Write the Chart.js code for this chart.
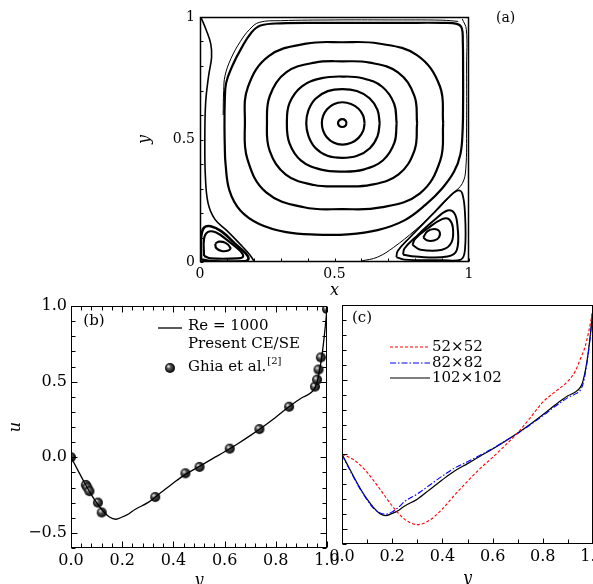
<!DOCTYPE html>
<html>
<head>
<meta charset="utf-8">
<script src="https://cdn.jsdelivr.net/npm/chart.js@4.4.0/dist/chart.umd.min.js"></script>
<style>
  html, body { margin: 0; padding: 0; background: #fff; overflow: hidden; width: 593px; height: 584px; }
  canvas { position: absolute; }
</style>
</head>
<body>
<canvas id="cavity" width="410" height="300" style="left:110px;top:0px"></canvas>
<canvas id="profile" width="345" height="310" style="left:0px;top:290px"></canvas>
<canvas id="grids" width="320" height="310" style="left:320px;top:290px"></canvas>
<script>
// ---- (a) streamlines ----
// primary vortex rings: distance from the vortex centre every 22.5 deg (0 = right, 90 = up)
const vortexCentre = [0.529, 0.567];
const ringCoreR = [0.016, 0.016, 0.016, 0.016, 0.016, 0.016, 0.016, 0.016];
const ring1R = [0.083, 0.0833, 0.084, 0.0847, 0.085, 0.0835, 0.0801, 0.0771, 0.076, 0.0775, 0.0814, 0.0859, 0.088, 0.0872, 0.0854, 0.0837];
const ring2R = [0.139, 0.1415, 0.1434, 0.1415, 0.139, 0.1412, 0.1409, 0.1364, 0.134, 0.1364, 0.1424, 0.1446, 0.142, 0.1446, 0.145, 0.1415];
const ring3R = [0.202, 0.2083, 0.2097, 0.1983, 0.19, 0.1985, 0.2123, 0.2125, 0.206, 0.2128, 0.2165, 0.2058, 0.198, 0.2055, 0.2144, 0.2097];
const ring4R = [0.278, 0.29, 0.2926, 0.2669, 0.252, 0.2672, 0.2937, 0.2915, 0.28, 0.2925, 0.297, 0.2735, 0.258, 0.2733, 0.2959, 0.2905];
const ring5R = [0.375, 0.3927, 0.3925, 0.3516, 0.33, 0.3509, 0.3867, 0.3802, 0.362, 0.3821, 0.4001, 0.372, 0.351, 0.3727, 0.4067, 0.3946];
// outer streamlines and corner eddies as [x, y] pairs
const ring6 = [[0.091, 0.55], [0.092, 0.65], [0.097, 0.73], [0.12, 0.8], [0.155, 0.875], [0.19, 0.935], [0.225, 0.965], [0.3, 0.974], [0.45, 0.976], [0.6, 0.976], [0.75, 0.976], [0.9, 0.976], [0.955, 0.972], [0.973, 0.955], [0.977, 0.9], [0.978, 0.78], [0.978, 0.65], [0.976, 0.53], [0.968, 0.44], [0.945, 0.37], [0.9, 0.3], [0.84, 0.235], [0.76, 0.17], [0.66, 0.13], [0.55, 0.113], [0.43, 0.112], [0.32, 0.122], [0.22, 0.155], [0.15, 0.21], [0.11, 0.29], [0.095, 0.4], [0.092, 0.48]];
const ring6Edge = [[0.086, 0.6], [0.088, 0.7], [0.093, 0.76], [0.115, 0.83], [0.15, 0.9], [0.185, 0.95], [0.22, 0.978], [0.3, 0.985], [0.5, 0.988], [0.7, 0.988], [0.9, 0.987], [0.96, 0.982]];
const wallLeft = [[0.004, 0.997], [0.022, 0.95], [0.04, 0.89], [0.043, 0.835], [0.032, 0.76], [0.021, 0.65], [0.018, 0.5], [0.02, 0.35], [0.03, 0.24], [0.055, 0.175], [0.1, 0.128], [0.15, 0.072], [0.185, 0.03], [0.2, 0.005]];
const wallRight = [[0.6, 0.004], [0.66, 0.02], [0.72, 0.06], [0.8, 0.13], [0.88, 0.21], [0.94, 0.28], [0.975, 0.32], [0.988, 0.38], [0.991, 0.55], [0.991, 0.8], [0.99, 0.95], [0.975, 0.992]];
const leftEddy3 = [[0.004, 0.01], [0.004, 0.1], [0.015, 0.14], [0.04, 0.146], [0.08, 0.125], [0.13, 0.075], [0.17, 0.035], [0.18, 0.012], [0.16, 0.003], [0.05, 0.003]];
const leftEddy2 = [[0.015, 0.025], [0.015, 0.095], [0.03, 0.123], [0.06, 0.12], [0.1, 0.09], [0.15, 0.045], [0.16, 0.022], [0.14, 0.015], [0.04, 0.015]];
const leftEddy1 = [[0.057, 0.075], [0.07, 0.083], [0.095, 0.078], [0.113, 0.058], [0.105, 0.047], [0.08, 0.045], [0.06, 0.057]];
const rightEddy4 = [[0.73, 0.02], [0.76, 0.01], [0.9, 0.008], [0.97, 0.01], [0.985, 0.05], [0.985, 0.2], [0.975, 0.28], [0.96, 0.292], [0.93, 0.27], [0.86, 0.19], [0.78, 0.1], [0.735, 0.045]];
const rightEddy3 = [[0.755, 0.03], [0.8, 0.022], [0.92, 0.022], [0.955, 0.05], [0.957, 0.15], [0.945, 0.2], [0.92, 0.21], [0.87, 0.17], [0.8, 0.1], [0.76, 0.055]];
const rightEddy2 = [[0.79, 0.07], [0.82, 0.05], [0.9, 0.05], [0.935, 0.08], [0.94, 0.14], [0.925, 0.175], [0.9, 0.175], [0.85, 0.14], [0.8, 0.095]];
const rightEddy1 = [[0.83, 0.1], [0.845, 0.125], [0.87, 0.135], [0.89, 0.125], [0.888, 0.1], [0.87, 0.088], [0.845, 0.088]];

// ---- (b) u along the vertical centreline ----
const presentY = [0, 0.025, 0.05, 0.075, 0.1, 0.125, 0.15, 0.175, 0.2, 0.225, 0.25, 0.3, 0.35, 0.4, 0.45, 0.5, 0.55, 0.6, 0.65, 0.7, 0.75, 0.8, 0.85, 0.9, 0.93, 0.95, 0.96, 0.97, 0.98, 0.99, 1.0];
const presentU = [0, -0.08, -0.16, -0.235, -0.3, -0.355, -0.395, -0.41, -0.395, -0.375, -0.345, -0.3, -0.235, -0.17, -0.11, -0.062, -0.012, 0.036, 0.088, 0.143, 0.202, 0.265, 0.332, 0.392, 0.418, 0.45, 0.49, 0.565, 0.67, 0.81, 0.98];
const ghiaY = [0, 0.058, 0.064, 0.072, 0.105, 0.12, 0.329, 0.447, 0.502, 0.62, 0.736, 0.852, 0.953, 0.961, 0.967, 0.976, 1.0];
const ghiaU = [0, -0.183, -0.2, -0.224, -0.3, -0.365, -0.263, -0.106, -0.064, 0.057, 0.186, 0.334, 0.467, 0.513, 0.58, 0.66, 0.98];

// ---- (c) grid study ----
const blueU = [0, -0.085, -0.165, -0.24, -0.305, -0.36, -0.39, -0.4, -0.385, -0.355, -0.315, -0.265, -0.205, -0.145, -0.09, -0.05, -0.005, 0.04, 0.09, 0.14, 0.198, 0.258, 0.322, 0.38, 0.405, 0.43, 0.47, 0.55, 0.66, 0.8, 0.98];
const redY = [0, 0.05, 0.1, 0.15, 0.2, 0.25, 0.3, 0.35, 0.4, 0.45, 0.5, 0.55, 0.6, 0.65, 0.7, 0.75, 0.8, 0.85, 0.9, 0.93, 0.95, 0.97, 0.99, 1.0];
const redU = [0, -0.04, -0.12, -0.23, -0.345, -0.435, -0.47, -0.44, -0.365, -0.27, -0.18, -0.095, -0.02, 0.06, 0.145, 0.245, 0.35, 0.42, 0.49, 0.56, 0.64, 0.73, 0.88, 0.98];

// ---- ticks ----
const labelsA = [0, 0.5, 1];
const minorA = [0, 0.1, 0.2, 0.3, 0.4, 0.5, 0.6, 0.7, 0.8, 0.9, 1];
const xLabelsBC = [0, 0.2, 0.4, 0.6, 0.8, 1.0];
const yLabelsB = [-0.5, 0, 0.5, 1.0];
const xMinorB = [0.04, 0.08, 0.12, 0.16, 0.24, 0.28, 0.32, 0.36, 0.44, 0.48, 0.52, 0.56, 0.64, 0.68, 0.72, 0.76, 0.84, 0.88, 0.92, 0.96];
const xMinorC = [0.1, 0.3, 0.5, 0.7, 0.9];
const yMinorBC = [-0.6, -0.4, -0.3, -0.2, -0.1, 0.1, 0.2, 0.3, 0.4, 0.6, 0.7, 0.8, 0.9];

const SERIF = '"DejaVu Serif", "Liberation Serif", serif';

function polarRing(radii) {
  return radii.map((r, i) => {
    const t = (i * Math.PI * 2) / radii.length;
    return [vortexCentre[0] + r * Math.cos(t), vortexCentre[1] + r * Math.sin(t)];
  });
}
function loop(pts) {
  const d = pts.map(([x, y]) => ({ x, y }));
  d.push({ x: pts[0][0], y: pts[0][1] });
  return d;
}
function open(pts) {
  return pts.map(([x, y]) => ({ x, y }));
}
function zip(xs, ys) {
  return xs.map((x, i) => ({ x, y: ys[i] }));
}
function stream(data, width) {
  return { data, showLine: true, borderColor: '#000', borderWidth: width, pointRadius: 0, tension: 0.4, fill: false };
}

function makeBall(r) {
  const c = document.createElement('canvas');
  c.width = c.height = 2 * r + 2;
  const g = c.getContext('2d');
  const m = r + 1;
  const grad = g.createRadialGradient(m - r * 0.35, m - r * 0.35, r * 0.1, m, m, r);
  grad.addColorStop(0, '#e0e0e0');
  grad.addColorStop(0.35, '#555');
  grad.addColorStop(1, '#000');
  g.fillStyle = grad;
  g.beginPath();
  g.arc(m, m, r, 0, Math.PI * 2);
  g.fill();
  return c;
}
const ball = makeBall(5);

// frame plus inward ticks
const frameTicks = {
  id: 'frameTicks',
  afterDatasetsDraw(chart, args, opts) {
    const { ctx, chartArea: a, scales } = chart;
    const L = Math.round(a.left) + 0.5;
    const R = Math.round(a.right) - 0.5;
    const T = Math.round(a.top) + 0.5;
    const B = Math.round(a.bottom) - 0.5;
    ctx.save();
    ctx.strokeStyle = '#000';
    ctx.lineWidth = opts.width || 1;
    ctx.strokeRect(L, T, R - L, B - T);
    ctx.lineWidth = 1;
    const sides = opts.sides || ['left', 'bottom'];
    const drawX = (vals, len) => vals.forEach((v) => {
      const p = Math.round(scales.x.getPixelForValue(v)) + 0.5;
      ctx.beginPath();
      if (sides.includes('bottom')) { ctx.moveTo(p, B); ctx.lineTo(p, B - len); }
      if (sides.includes('top')) { ctx.moveTo(p, T); ctx.lineTo(p, T + len); }
      ctx.stroke();
    });
    const drawY = (vals, len) => vals.forEach((v) => {
      const p = Math.round(scales.y.getPixelForValue(v)) + 0.5;
      ctx.beginPath();
      if (sides.includes('left')) { ctx.moveTo(L, p); ctx.lineTo(L + len, p); }
      if (sides.includes('right')) { ctx.moveTo(R, p); ctx.lineTo(R - len, p); }
      ctx.stroke();
    });
    drawX(opts.xMajor || [], opts.majorLen || 5);
    drawX(opts.xMinor || [], opts.minorLen || 3);
    drawY(opts.yMajor || [], opts.majorLen || 5);
    drawY(opts.yMinor || [], opts.minorLen || 3);
    ctx.restore();
  },
};

// panel tags and hand-placed legends
const panelText = {
  id: 'panelText',
  afterDraw(chart, args, opts) {
    const { ctx } = chart;
    ctx.save();
    (opts.lines || []).forEach((ln) => {
      ctx.beginPath();
      ctx.setLineDash(ln.dash || []);
      ctx.strokeStyle = ln.color;
      ctx.lineWidth = ln.width;
      ctx.moveTo(ln.x0, ln.y);
      ctx.lineTo(ln.x1, ln.y);
      ctx.stroke();
    });
    ctx.setLineDash([]);
    (opts.balls || []).forEach((b) => ctx.drawImage(ball, b.x - ball.width / 2, b.y - ball.height / 2));
    ctx.fillStyle = '#000';
    ctx.textBaseline = 'middle';
    (opts.items || []).forEach((it) => {
      ctx.font = it.font;
      ctx.textAlign = it.align || 'left';
      ctx.fillText(it.text, it.x, it.y);
      if (it.sup) {
        const w = ctx.measureText(it.text).width;
        ctx.font = it.supFont;
        ctx.textAlign = 'left';
        ctx.fillText(it.sup, it.x + w + 1, it.y - 6);
      }
    });
    ctx.restore();
  },
};

function fixTicks(list) {
  return (scale) => { scale.ticks = list.map((v) => ({ value: v })); };
}
const oneDecimal = (v) => (v < 0 ? '\u2212' + Math.abs(v).toFixed(1) : v.toFixed(1));
const plain = (v) => String(v);

// ---------- (a) ----------
new Chart(document.getElementById('cavity'), {
  type: 'scatter',
  data: {
    datasets: [
      stream(loop(polarRing(ringCoreR)), 2.2),
      stream(loop(polarRing(ring1R)), 2.2),
      stream(loop(polarRing(ring2R)), 2.2),
      stream(loop(polarRing(ring3R)), 2.2),
      stream(loop(polarRing(ring4R)), 2.2),
      stream(loop(polarRing(ring5R)), 2.2),
      stream(loop(ring6), 2.2),
      stream(open(ring6Edge), 1),
      stream(open(wallLeft), 1.6),
      stream(open(wallRight), 1),
      stream(loop(leftEddy3), 2.6),
      stream(loop(leftEddy2), 2.2),
      stream(loop(leftEddy1), 2.2),
      stream(loop(rightEddy4), 1.8),
      stream(loop(rightEddy3), 2),
      stream(loop(rightEddy2), 2),
      stream(loop(rightEddy1), 2),
    ],
  },
  options: {
    responsive: false,
    animation: false,
    devicePixelRatio: 1,
    layout: { padding: { left: 25, right: 51, top: 17, bottom: 0 } },
    scales: {
      x: {
        type: 'linear',
        min: 0,
        max: 1,
        afterBuildTicks: fixTicks(labelsA),
        afterFit: (s) => { s.height = 38; },
        grid: { display: false, drawTicks: false },
        border: { display: false },
        ticks: { color: '#000', padding: 4, maxRotation: 0, autoSkip: false, font: { family: SERIF, size: 14 }, callback: plain },
        title: { display: true, text: 'x', color: '#000', padding: 0, font: { family: SERIF, size: 16, style: 'italic' } },
      },
      y: {
        type: 'linear',
        min: 0,
        max: 1,
        afterBuildTicks: fixTicks(labelsA),
        afterFit: (s) => { s.width = 65; },
        grid: { display: false, drawTicks: false },
        border: { display: false },
        ticks: { color: '#000', padding: 5, autoSkip: false, font: { family: SERIF, size: 14 }, callback: plain },
        title: { display: true, text: 'y', color: '#000', padding: 0, font: { family: SERIF, size: 16, style: 'italic' } },
      },
    },
    plugins: {
      legend: { display: false },
      tooltip: { enabled: false },
      frameTicks: { width: 1.5, sides: ['left', 'bottom'], xMinor: minorA, yMinor: minorA, minorLen: 3 },
      panelText: {
        items: [{ text: '(a)', x: 386, y: 18, font: `14px ${SERIF}` }],
      },
    },
  },
  plugins: [frameTicks, panelText],
});

// ---------- (b) ----------
new Chart(document.getElementById('profile'), {
  type: 'scatter',
  data: {
    datasets: [
      {
        data: zip(presentY, presentU),
        showLine: true,
        borderColor: '#000',
        borderWidth: 1.3,
        pointRadius: 0,
        cubicInterpolationMode: 'monotone',
      },
      {
        data: zip(ghiaY, ghiaU),
        showLine: false,
        pointStyle: ball,
        pointRadius: 5,
      },
    ],
  },
  options: {
    responsive: false,
    animation: false,
    devicePixelRatio: 1,
    layout: { padding: { left: 6, right: 18, top: 16, bottom: 10 } },
    scales: {
      x: {
        type: 'linear',
        min: 0,
        max: 1,
        afterBuildTicks: fixTicks(xLabelsBC),
        afterFit: (s) => { s.height = 42; },
        grid: { display: false, drawTicks: false },
        border: { display: false },
        ticks: { color: '#000', padding: 3, maxRotation: 0, autoSkip: false, font: { family: SERIF, size: 16 }, callback: oneDecimal },
        title: { display: true, text: 'y', color: '#000', padding: 0, font: { family: SERIF, size: 16, style: 'italic' } },
      },
      y: {
        type: 'linear',
        min: -0.6,
        max: 1.0,
        afterBuildTicks: fixTicks(yLabelsB),
        afterFit: (s) => { s.width = 65; },
        grid: { display: false, drawTicks: false },
        border: { display: false },
        ticks: { color: '#000', padding: 4, autoSkip: false, font: { family: SERIF, size: 16 }, callback: oneDecimal },
        title: { display: true, text: 'u', color: '#000', padding: 0, font: { family: SERIF, size: 16, style: 'italic' } },
      },
    },
    plugins: {
      legend: { display: false },
      tooltip: { enabled: false },
      frameTicks: {
        width: 1, sides: ['left', 'bottom', 'top', 'right'],
        xMajor: xLabelsBC, xMinor: xMinorB, yMajor: yLabelsB, yMinor: yMinorBC, majorLen: 6, minorLen: 4,
      },
      panelText: {
        lines: [{ x0: 158, x1: 182, y: 38, color: '#000', width: 1.3 }],
        balls: [{ x: 170, y: 78 }],
        items: [
          { text: '(b)', x: 94, y: 31, align: 'center', font: `15px ${SERIF}` },
          { text: 'Re = 1000', x: 188, y: 36, font: `15px ${SERIF}` },
          { text: 'Present CE/SE', x: 188, y: 54, font: `15px ${SERIF}` },
          { text: 'Ghia et al.', x: 188, y: 77, font: `15px ${SERIF}`, sup: '[2]', supFont: `10px ${SERIF}` },
        ],
      },
    },
  },
  plugins: [frameTicks, panelText],
});

// ---------- (c) ----------
new Chart(document.getElementById('grids'), {
  type: 'scatter',
  data: {
    datasets: [
      {
        data: zip(redY, redU),
        showLine: true,
        borderColor: '#ff0000',
        borderWidth: 1.1,
        borderDash: [3, 2],
        pointRadius: 0,
        cubicInterpolationMode: 'monotone',
      },
      {
        data: zip(presentY, blueU),
        showLine: true,
        borderColor: '#0000ff',
        borderWidth: 1.1,
        borderDash: [6, 2, 1.5, 2],
        pointRadius: 0,
        cubicInterpolationMode: 'monotone',
      },
      {
        data: zip(presentY, presentU),
        showLine: true,
        borderColor: '#000',
        borderWidth: 1.2,
        pointRadius: 0,
        cubicInterpolationMode: 'monotone',
      },
    ],
  },
  options: {
    responsive: false,
    animation: false,
    devicePixelRatio: 1,
    layout: { padding: { left: 22, right: 47, top: 15, bottom: 12 } },
    scales: {
      x: {
        type: 'linear',
        min: 0,
        max: 1,
        afterBuildTicks: fixTicks(xLabelsBC),
        afterFit: (s) => { s.height = 44; },
        grid: { display: false, drawTicks: false },
        border: { display: false },
        ticks: { color: '#000', padding: 3, maxRotation: 0, autoSkip: false, font: { family: SERIF, size: 16 }, callback: oneDecimal },
        title: { display: true, text: 'y', color: '#000', padding: 0, font: { family: SERIF, size: 16, style: 'italic' } },
      },
      y: {
        type: 'linear',
        display: false,
        min: -0.6,
        max: 1.0,
      },
    },
    plugins: {
      legend: { display: false },
      tooltip: { enabled: false },
      frameTicks: {
        width: 1, sides: ['left', 'bottom'],
        xMajor: xLabelsBC, xMinor: xMinorC, yMajor: yLabelsB, yMinor: yMinorBC, majorLen: 5, minorLen: 4,
      },
      panelText: {
        lines: [
          { x0: 70, x1: 110, y: 57, color: '#ff0000', width: 1.1, dash: [3, 2] },
          { x0: 70, x1: 110, y: 73, color: '#0000ff', width: 1.1, dash: [6, 2, 1.5, 2] },
          { x0: 70, x1: 110, y: 88, color: '#000', width: 1.2 },
        ],
        items: [
          { text: '(c)', x: 42, y: 28, align: 'center', font: `15px ${SERIF}` },
          { text: '52\u00d752', x: 112, y: 57, font: `15px ${SERIF}` },
          { text: '82\u00d782', x: 112, y: 73, font: `15px ${SERIF}` },
          { text: '102\u00d7102', x: 112, y: 88, font: `15px ${SERIF}` },
        ],
      },
    },
  },
  plugins: [frameTicks, panelText],
});
</script>
</body>
</html>
